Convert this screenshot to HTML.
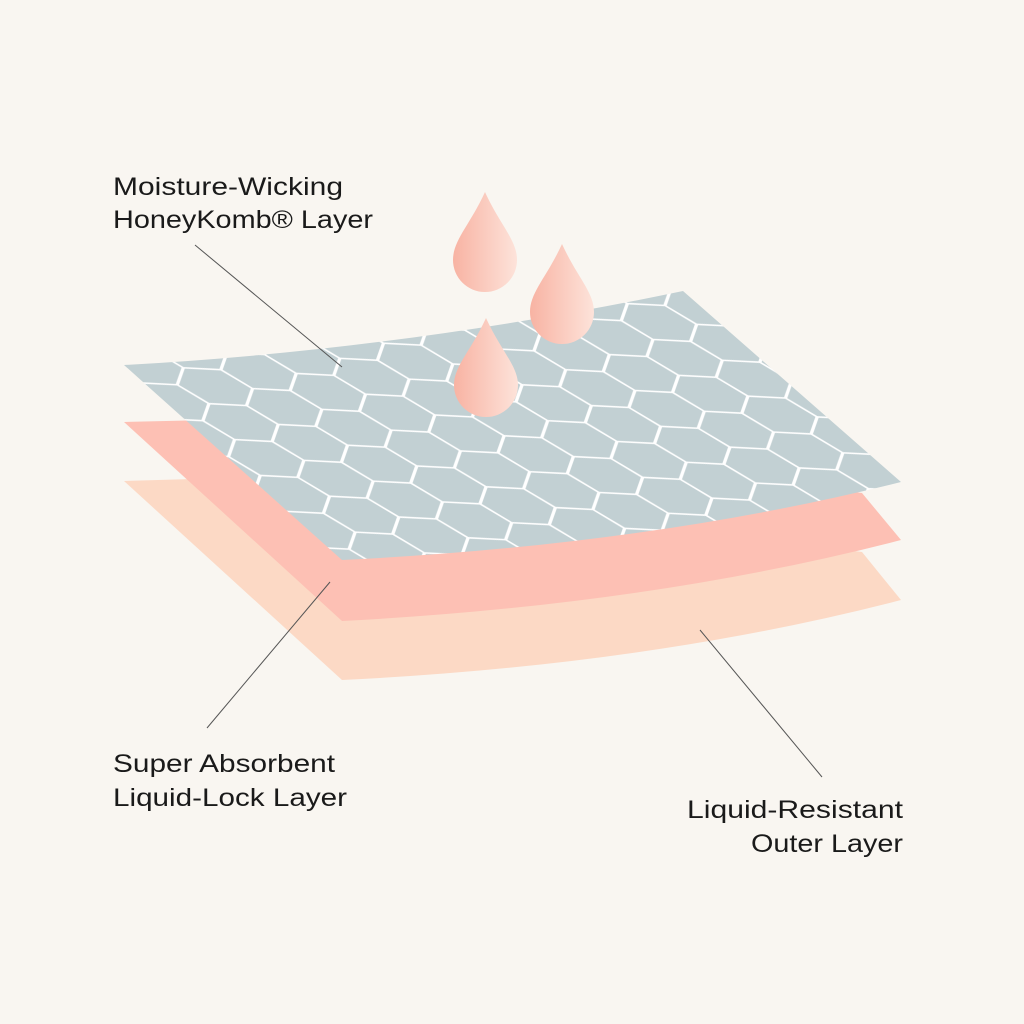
<!DOCTYPE html>
<html><head><meta charset="utf-8"><style>
html,body{margin:0;padding:0;background:#f9f6f1}
svg{display:block}
text{font-family:"Liberation Sans",sans-serif;font-size:25px;fill:#1a1a1a}
</style></head><body>
<svg width="1024" height="1024" viewBox="0 0 1024 1024" xmlns="http://www.w3.org/2000/svg">
<defs>
<pattern id="hex" patternUnits="userSpaceOnUse" width="1.732" height="3" patternTransform="matrix(40 12 -6 17 120 330)">
<rect width="1.732" height="3" fill="#c2d0d3"/>
<path d="M0,1 L0.866,0.5 L1.732,1 M0.866,0 L0.866,0.5 M0,1 L0,2 M1.732,1 L1.732,2 M0,2 L0.866,2.5 L1.732,2 M0.866,2.5 L0.866,3" fill="none" stroke="#ffffff" stroke-width="0.08"/>
</pattern>
<linearGradient id="drop" x1="0" y1="0" x2="1" y2="0">
<stop offset="0" stop-color="#f8b3a3"/>
<stop offset="1" stop-color="#fde3da"/>
</linearGradient>
</defs>
<rect width="1024" height="1024" fill="#f9f6f1"/>
<path d="M124,481 L300,476 L862,552 L901,600 Q650,665 342,680 Z" fill="#fcd9c5"/>
<path d="M124,422 L300,418 L862,493 L901,540 Q650,605 342,621 Z" fill="#fdc0b4"/>
<path d="M124,365 Q400,350 683,291 L901,482 Q650,545 342,560 Z" fill="url(#hex)"/>
<path d="M485,192 C470,225 453,240 453,260 A32,32 0 0 0 517,260 C517,240 500,225 485,192 Z" fill="url(#drop)"/>
<path d="M562,244 C547,277 530,292 530,312 A32,32 0 0 0 594,312 C594,292 577,277 562,244 Z" fill="url(#drop)"/>
<path d="M486,318 C471,351 454,366 454,385 A32,32 0 0 0 518,385 C518,366 501,351 486,318 Z" fill="url(#drop)"/>
<g stroke="#555" stroke-width="1" fill="none">
<line x1="195" y1="245" x2="342" y2="367"/>
<line x1="330" y1="582" x2="207" y2="728"/>
<line x1="700" y1="630" x2="822" y2="777"/>
</g>
<text x="113" y="195" textLength="230" lengthAdjust="spacingAndGlyphs">Moisture-Wicking</text>
<text x="113" y="228" textLength="260" lengthAdjust="spacingAndGlyphs">HoneyKomb® Layer</text>
<text x="113" y="772" textLength="222" lengthAdjust="spacingAndGlyphs">Super Absorbent</text>
<text x="113" y="806" textLength="234" lengthAdjust="spacingAndGlyphs">Liquid-Lock Layer</text>
<text x="687" y="818" textLength="216" lengthAdjust="spacingAndGlyphs">Liquid-Resistant</text>
<text x="751" y="852" textLength="152" lengthAdjust="spacingAndGlyphs">Outer Layer</text>
</svg>
</body></html>
